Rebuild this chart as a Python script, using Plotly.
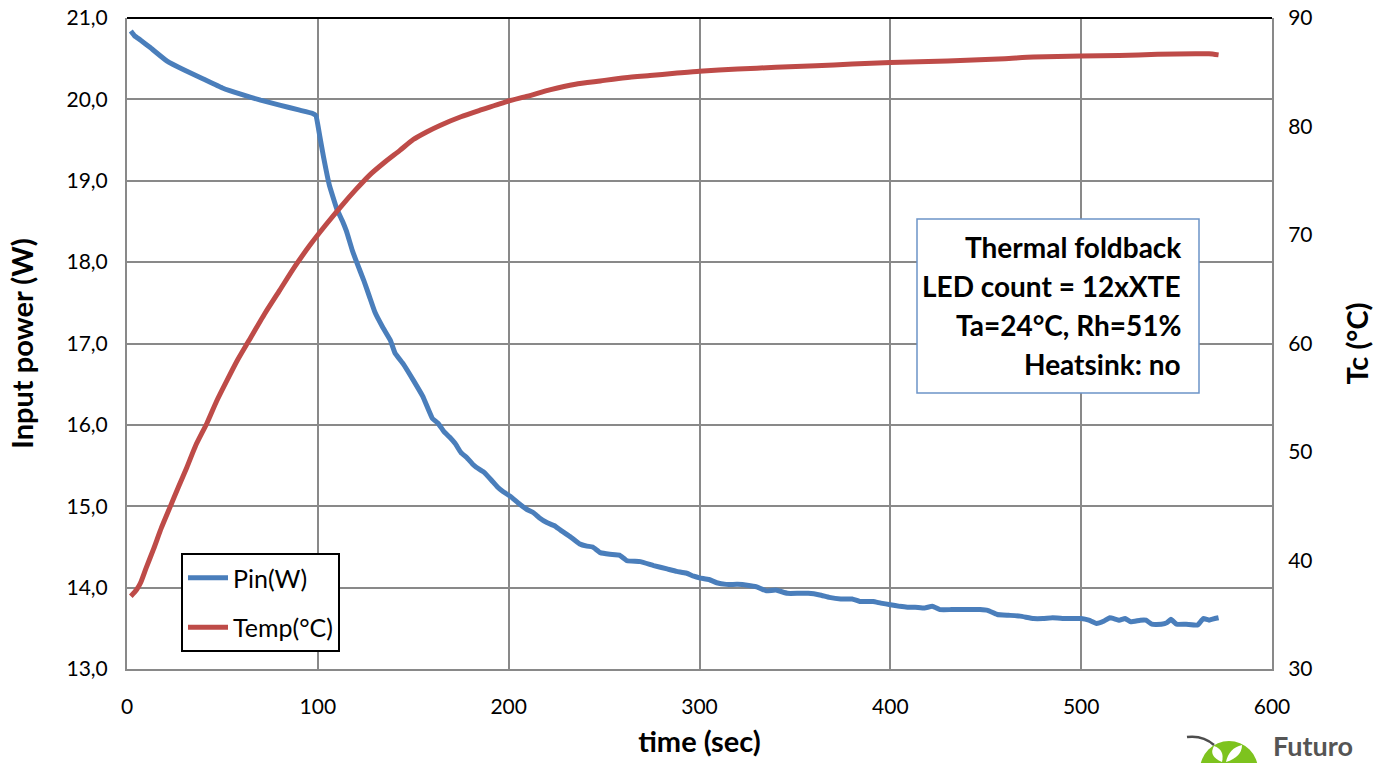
import plotly.graph_objects as go

# ---------------- data ----------------
pin_time = [2, 4, 7, 12, 21, 30, 40, 50, 60, 70, 80, 90, 97, 99, 101, 103, 106, 110, 113, 115, 118,
            120.5, 124, 127, 130, 134, 138, 140.5, 145, 150, 155, 160, 163, 166, 169, 172, 175, 178,
            181, 183, 187, 191, 194, 197, 201, 205, 209.6, 213, 216, 220, 224, 227, 232, 237, 241,
            244, 248, 253, 258, 262, 269, 276, 283, 288, 293, 297, 300, 305, 309, 314, 320, 325, 330,
            335, 340, 346, 352, 357, 363, 368, 374, 380, 384, 391, 395, 400, 405, 409, 413, 418, 422,
            426, 432, 440, 447, 451, 456, 462, 468, 475, 480, 485, 492, 500, 504, 508, 512, 515, 520,
            523, 526, 531, 534, 537, 542, 545, 547, 550, 555, 561, 564, 567, 570, 572]
pin_watts = [20.84, 20.78, 20.73, 20.64, 20.47, 20.36, 20.25, 20.14, 20.06, 19.99, 19.93, 19.87, 19.83,
             19.80, 19.55, 19.29, 18.95, 18.65, 18.50, 18.38, 18.15, 17.99, 17.78, 17.58, 17.38, 17.20,
             17.04, 16.88, 16.74, 16.55, 16.35, 16.08, 16.02, 15.92, 15.85, 15.77, 15.66, 15.60, 15.52,
             15.48, 15.42, 15.32, 15.24, 15.18, 15.12, 15.04, 14.96, 14.92, 14.86, 14.80, 14.76, 14.71,
             14.63, 14.54, 14.51, 14.50, 14.43, 14.41, 14.40, 14.33, 14.32, 14.27, 14.23, 14.20, 14.18,
             14.14, 14.12, 14.10, 14.06, 14.04, 14.04, 14.03, 14.01, 13.96, 13.97, 13.93, 13.93, 13.93,
             13.91, 13.88, 13.86, 13.86, 13.83, 13.83, 13.81, 13.79, 13.77, 13.76, 13.76, 13.75, 13.77,
             13.73, 13.73, 13.73, 13.73, 13.72, 13.67, 13.66, 13.65, 13.62, 13.62, 13.63, 13.62, 13.62,
             13.60, 13.56, 13.59, 13.63, 13.60, 13.62, 13.58, 13.60, 13.60, 13.55, 13.55, 13.57, 13.61,
             13.55, 13.55, 13.54, 13.62, 13.60, 13.62, 13.63]

temp_time = [2, 5, 7, 10, 14, 18, 22.5, 27, 31.4, 36, 42, 47, 52.4, 58, 64, 72, 80, 88, 96, 104, 112,
             120, 127, 135, 143, 150, 157, 164, 175, 185, 199, 210, 222, 235, 248, 261, 274, 287, 300,
             320, 340, 361, 380, 400, 420, 440, 460, 475, 500, 520, 540, 560, 567, 572]
temp_c = [36.7, 37.3, 37.9, 39.3, 41.1, 43.0, 44.9, 46.8, 48.6, 50.6, 52.7, 54.7, 56.6, 58.5, 60.3,
          62.7, 64.9, 67.1, 69.1, 70.9, 72.6, 74.2, 75.5, 76.7, 77.8, 78.8, 79.5, 80.1, 80.9, 81.5,
          82.3, 82.8, 83.4, 83.9, 84.2, 84.5, 84.7, 84.9, 85.1, 85.3, 85.45, 85.6, 85.75, 85.9, 86.0,
          86.1, 86.25, 86.4, 86.5, 86.55, 86.65, 86.7, 86.7, 86.6]

x_ticks = [0, 100, 200, 300, 400, 500, 600]
info_lines = ["Thermal foldback", "LED count = 12xXTE", "Ta=24\u00b0C, Rh=51%", "Heatsink: no"]

# ---------------- layout helpers ----------------
W, H = 1380, 763
L, R, T, B = 127, 1272, 18, 669   # plot area in page pixels


def px(xp):
    return (xp - L) / (R - L)


def py(yp):
    return (B - yp) / (B - T)


FONT = "Lato, 'Open Sans', sans-serif"
GRID = "#898989"

fig = go.Figure()
fig.add_trace(go.Scatter(x=pin_time, y=pin_watts, name="Pin(W)", mode="lines",
                         line=dict(color="#4A7EBB", width=5, shape="spline", smoothing=0.3),
                         legendgroup="a"))
fig.add_trace(go.Scatter(x=temp_time, y=temp_c, name="Temp(\u00b0C)", mode="lines", yaxis="y2",
                         line=dict(color="#BE4B48", width=5, shape="spline", smoothing=0.6),
                         legendgroup="b"))

shapes = [
    dict(type="line", xref="paper", yref="paper", x0=0, x1=1, y0=1, y1=1,
         line=dict(color="black", width=2)),
    dict(type="rect", xref="paper", yref="paper", x0=px(917), x1=px(1199), y0=py(393), y1=py(219),
         line=dict(color="#6C94C8", width=1.5), fillcolor="white", layer="above"),
    dict(type="circle", xref="paper", yref="paper", x0=px(1200), x1=px(1258), y0=py(741 + 58),
         y1=py(741), line=dict(width=0), fillcolor="#7DC31E"),
    dict(type="path", xref="paper", yref="paper",
         path="M %f,%f Q %f,%f %f,%f" % (px(1187), py(737), px(1203), py(735), px(1214), py(745)),
         line=dict(color="#4D4D4D", width=2.5)),
    dict(type="path", xref="paper", yref="paper",
         path="M %f,%f Q %f,%f %f,%f Q %f,%f %f,%f Z" % (px(1222), py(762), px(1208), py(756),
                                                      px(1214), py(746), px(1225), py(750),
                                                      px(1222), py(762)),
         line=dict(width=0), fillcolor="white"),
    dict(type="path", xref="paper", yref="paper",
         path="M %f,%f Q %f,%f %f,%f Q %f,%f %f,%f Z" % (px(1226), py(762), px(1242), py(757),
                                                      px(1242), py(745), px(1229), py(748),
                                                      px(1226), py(762)),
         line=dict(width=0), fillcolor="white"),
]

annotations = []
line_y = [247, 286, 325, 364]
for txt, yy in zip(info_lines, line_y):
    annotations.append(dict(text="<b>%s</b>" % txt, xref="paper", yref="paper", x=px(1183), y=py(yy),
                            xanchor="right", yanchor="middle", showarrow=False,
                            font=dict(family=FONT, size=28, color="black")))
annotations.append(dict(text="<b>Futuro</b>", xref="paper", yref="paper", x=px(1271), y=py(745),
                        xanchor="left", yanchor="middle", showarrow=False,
                        font=dict(family=FONT, size=27, color="#555555")))

fig.update_layout(
    width=W, height=H,
    margin=dict(l=L, r=W - R, t=T, b=H - B, autoexpand=False),
    paper_bgcolor="white", plot_bgcolor="white",
    separators=",.",
    font=dict(family=FONT, size=21, color="black"),
    xaxis=dict(range=[0, 600], tickvals=x_ticks, showgrid=True, gridcolor=GRID, gridwidth=2,
               showline=True, linecolor=GRID, linewidth=2, zeroline=False, ticks="",
               tickfont=dict(size=21), ticklabelstandoff=18, ticklabeloverflow="allow",
               title=dict(text="<b>time (sec)</b>", font=dict(size=29), standoff=14)),
    yaxis=dict(range=[13, 21], dtick=1, tickformat=".1f", showgrid=True, gridcolor=GRID, gridwidth=2,
               showline=True, linecolor=GRID, linewidth=2, zeroline=False, ticks="",
               tickfont=dict(size=21), ticklabelstandoff=13, ticklabeloverflow="allow",
               title=dict(text="<b>Input power (W)</b>", font=dict(size=29), standoff=24)),
    yaxis2=dict(range=[30, 90], dtick=10, overlaying="y", side="right", showgrid=False,
                showline=True, linecolor=GRID, linewidth=2, zeroline=False, ticks="",
                tickfont=dict(size=21), ticklabelstandoff=10, ticklabeloverflow="allow",
                title=dict(text="<b>Tc (\u00b0C)</b>", font=dict(size=29), standoff=36)),
    legend=dict(x=px(181), y=py(553), xanchor="left", yanchor="top", bordercolor="black",
                borderwidth=2, bgcolor="white", font=dict(size=25), tracegroupgap=14,
                itemwidth=40),
    shapes=shapes,
    annotations=annotations,
    showlegend=True,
)

# remove the default 8px page margin so the figure sits at the window's top-left corner
fig.write_html("out.html", config={"displayModeBar": False},
               post_script="document.body.style.margin='0';document.body.style.overflow='hidden';")
